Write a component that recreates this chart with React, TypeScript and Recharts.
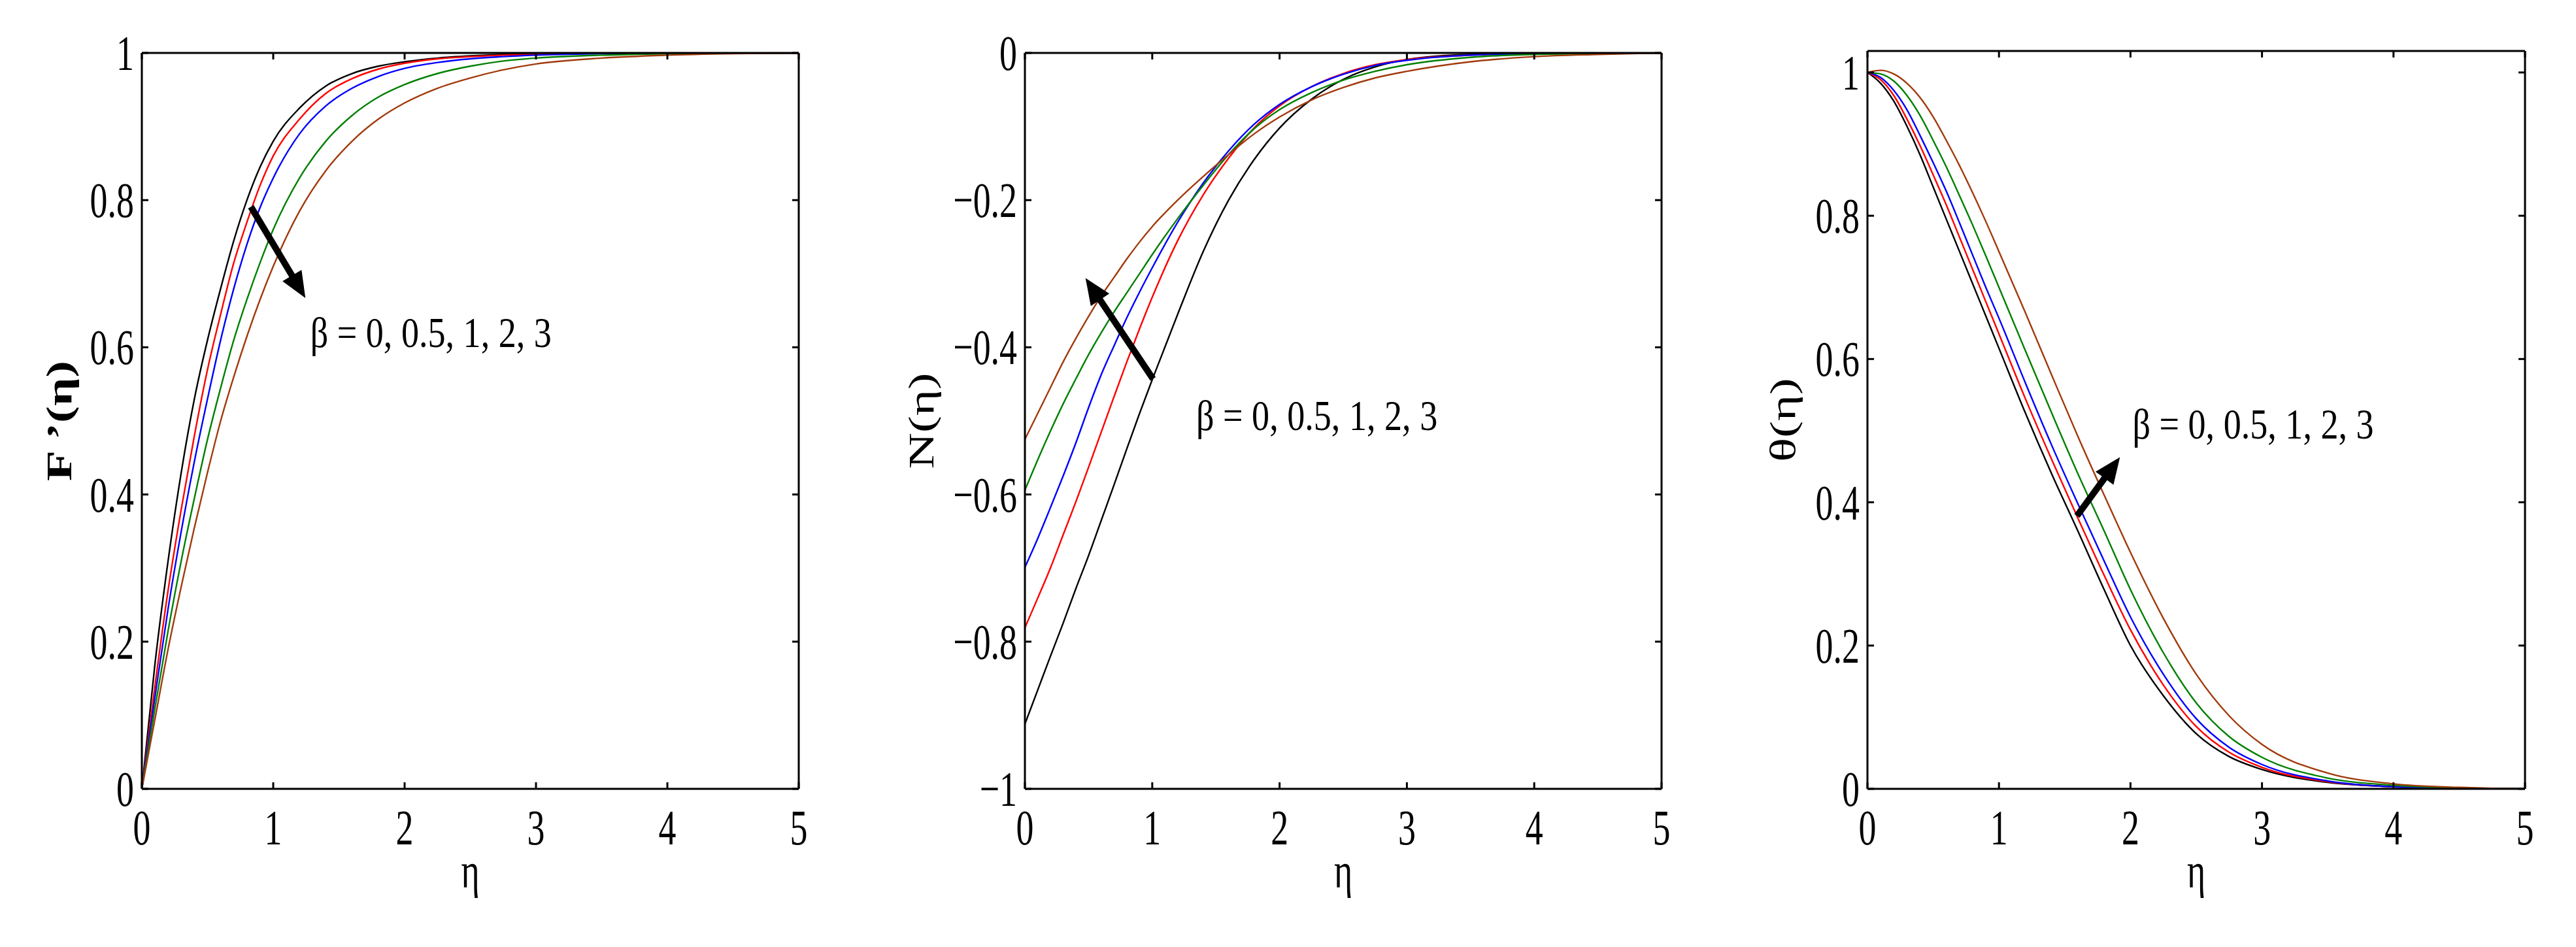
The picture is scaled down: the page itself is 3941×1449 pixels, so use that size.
import React from 'react'
import { LineChart, Line, XAxis, YAxis, ReferenceLine, ReferenceDot } from 'recharts'

// eta grid shared by the three panels
const eta = [0, 0.1, 0.2, 0.3, 0.4, 0.5, 0.6, 0.7, 0.8, 0.9, 1.0, 1.2, 1.4, 1.6, 1.8, 2.0, 2.25, 2.5, 2.75, 3.0, 3.5, 4.0, 4.5, 5.0]

const betaLabels = ['0', '0.5', '1', '2', '3']
const betaColors = ['#000000', '#ff0000', '#0000ff', '#008000', '#a13a0c']

// F'(eta)
const fB0 = [0, 0.17, 0.31, 0.43, 0.53, 0.61, 0.68, 0.745, 0.8, 0.845, 0.88, 0.925, 0.955, 0.972, 0.982, 0.988, 0.993, 0.996, 0.998, 0.999, 1, 1, 1, 1]
const fB05 = [0, 0.14, 0.27, 0.38, 0.48, 0.57, 0.645, 0.715, 0.77, 0.82, 0.86, 0.91, 0.945, 0.965, 0.978, 0.986, 0.992, 0.995, 0.997, 0.998, 1, 1, 1, 1]
const fB1 = [0, 0.125, 0.245, 0.35, 0.445, 0.53, 0.61, 0.68, 0.74, 0.79, 0.83, 0.89, 0.928, 0.952, 0.968, 0.979, 0.987, 0.992, 0.995, 0.997, 0.999, 1, 1, 1]
const fB2 = [0, 0.11, 0.215, 0.31, 0.395, 0.475, 0.545, 0.61, 0.665, 0.715, 0.76, 0.83, 0.88, 0.915, 0.94, 0.957, 0.972, 0.982, 0.989, 0.993, 0.997, 0.999, 1, 1]
const fB3 = [0, 0.095, 0.19, 0.275, 0.355, 0.43, 0.5, 0.56, 0.615, 0.665, 0.71, 0.785, 0.84, 0.88, 0.91, 0.932, 0.952, 0.966, 0.977, 0.985, 0.993, 0.997, 0.999, 1]

// N(eta)
const nB0 = [-0.912, -0.866, -0.82, -0.775, -0.728, -0.683, -0.635, -0.587, -0.538, -0.49, -0.444, -0.355, -0.27, -0.2, -0.145, -0.102, -0.063, -0.036, -0.019, -0.009, -0.002, -0.0005, 0, 0]
const nB05 = [-0.781, -0.741, -0.7, -0.655, -0.61, -0.563, -0.515, -0.467, -0.42, -0.375, -0.332, -0.255, -0.193, -0.143, -0.102, -0.072, -0.046, -0.028, -0.016, -0.009, -0.003, -0.001, 0, 0]
const nB1 = [-0.699, -0.66, -0.618, -0.575, -0.53, -0.482, -0.437, -0.398, -0.36, -0.325, -0.292, -0.23, -0.177, -0.133, -0.097, -0.07, -0.046, -0.029, -0.017, -0.01, -0.003, -0.001, 0, 0]
const nB2 = [-0.594, -0.553, -0.514, -0.477, -0.443, -0.41, -0.38, -0.352, -0.326, -0.3, -0.274, -0.225, -0.18, -0.138, -0.103, -0.077, -0.054, -0.037, -0.025, -0.016, -0.006, -0.002, -0.001, 0]
const nB3 = [-0.525, -0.49, -0.455, -0.42, -0.388, -0.358, -0.33, -0.305, -0.28, -0.257, -0.236, -0.2, -0.168, -0.138, -0.11, -0.087, -0.064, -0.047, -0.034, -0.025, -0.012, -0.005, -0.002, 0]

// theta(eta)
const tB0 = [1, 0.985, 0.96, 0.925, 0.885, 0.84, 0.795, 0.75, 0.705, 0.66, 0.615, 0.525, 0.44, 0.36, 0.278, 0.2, 0.13, 0.077, 0.045, 0.027, 0.009, 0.003, 0.001, 0]
const tB05 = [1, 0.99, 0.968, 0.935, 0.898, 0.857, 0.815, 0.77, 0.725, 0.68, 0.635, 0.545, 0.46, 0.378, 0.298, 0.222, 0.145, 0.087, 0.051, 0.03, 0.01, 0.003, 0.001, 0]
const tB1 = [1, 0.993, 0.975, 0.948, 0.912, 0.874, 0.834, 0.79, 0.745, 0.7, 0.657, 0.567, 0.48, 0.398, 0.318, 0.24, 0.16, 0.098, 0.058, 0.034, 0.011, 0.003, 0.001, 0]
const tB2 = [1, 0.998, 0.988, 0.968, 0.94, 0.905, 0.868, 0.828, 0.787, 0.744, 0.7, 0.612, 0.525, 0.44, 0.36, 0.278, 0.19, 0.12, 0.073, 0.044, 0.015, 0.005, 0.0015, 0]
const tB3 = [1, 1.003, 0.998, 0.985, 0.965, 0.938, 0.905, 0.87, 0.832, 0.792, 0.75, 0.665, 0.578, 0.492, 0.41, 0.33, 0.238, 0.16, 0.102, 0.062, 0.022, 0.007, 0.002, 0]

const xTicks = [0, 1, 2, 3, 4, 5]
const fTicks = [0, 0.2, 0.4, 0.6, 0.8, 1]
const nTicks = [-1, -0.8, -0.6, -0.4, -0.2, 0]
const tTicks = [0, 0.2, 0.4, 0.6, 0.8, 1]

const annotation = 'β = 0, 0.5, 1, 2, 3'

const FONT = "'Liberation Serif', 'Times New Roman', Times, serif"
const FS = 77
const SQUEEZE = 0.7

function buildRows(series: number[][]) {
  return eta.map((e, i) => {
    const row: Record<string, number> = { eta: e }
    series.forEach((s, k) => {
      row['b' + k] = s[i]
    })
    return row
  })
}

function fmt(v: number) {
  if (v < 0) return '\u2212' + String(Math.abs(v))
  return String(v)
}

function XTick(props: any) {
  const { x, y, payload } = props
  return (
    <text transform={`translate(${x},${y + 85}) scale(${SQUEEZE},1)`} textAnchor="middle" fontFamily={FONT} fontSize={FS} fill="#000">
      {fmt(payload.value)}
    </text>
  )
}

function YTick(props: any) {
  const { x, y, payload } = props
  return (
    <text transform={`translate(${x - 12},${y + 26}) scale(${SQUEEZE},1)`} textAnchor="end" fontFamily={FONT} fontSize={FS} fill="#000">
      {fmt(payload.value)}
    </text>
  )
}

const noTick = () => <g />

function arrowShape(props: any) {
  const { x1, y1, x2, y2 } = props
  const dx = x2 - x1
  const dy = y2 - y1
  const len = Math.hypot(dx, dy)
  const ux = dx / len
  const uy = dy / len
  const L = 40
  const W = 17
  const bx = x2 - ux * L
  const by = y2 - uy * L
  return (
    <g>
      <line x1={x1} y1={y1} x2={bx + ux * 4} y2={by + uy * 4} stroke="#000" strokeWidth={10} />
      <polygon points={`${x2},${y2} ${bx - uy * W},${by + ux * W} ${bx + uy * W},${by - ux * W}`} fill="#000" />
    </g>
  )
}

function noteShape(props: any) {
  const { cx, cy } = props
  return (
    <text transform={`translate(${cx},${cy}) scale(0.82,1)`} textAnchor="start" fontFamily={FONT} fontSize={66} fill="#000">
      {annotation}
    </text>
  )
}

type PanelProps = {
  left: number
  width: number
  margin: { top: number; right: number; bottom: number; left: number }
  series: number[][]
  yDomain: [number, number]
  yTicks: number[]
  yLabel: string
  yLabelBold?: boolean
  yLabelOffset: number
  arrow: [{ x: number; y: number }, { x: number; y: number }]
  note: { x: number; y: number }
}

function Panel(p: PanelProps) {
  const rows = buildRows(p.series)
  const axisLine = { stroke: '#000', strokeWidth: 3 }
  const tickLine = { stroke: '#000', strokeWidth: 3 }
  return (
    <div style={{ position: 'absolute', left: p.left, top: 0 }}>
      <LineChart width={p.width} height={1449} data={rows} margin={p.margin}>
        <XAxis
          dataKey="eta"
          type="number"
          domain={[0, 5]}
          ticks={xTicks}
          allowDataOverflow
          height={100}
          axisLine={axisLine}
          tickLine={tickLine}
          tickSize={-10}
          tickMargin={10}
          tick={<XTick />}
          interval={0}
          label={{
            content: (lp: any) => {
              const vb = lp.viewBox
              return (
                <text transform={`translate(${vb.x + vb.width / 2},${vb.y + 151}) scale(${SQUEEZE},1)`} textAnchor="middle" fontFamily={FONT} fontSize={FS} fill="#000">
                  η
                </text>
              )
            },
          }}
        />
        <XAxis
          xAxisId="top"
          orientation="top"
          dataKey="eta"
          type="number"
          domain={[0, 5]}
          ticks={xTicks}
          allowDataOverflow
          height={10}
          axisLine={axisLine}
          tickLine={tickLine}
          tickSize={-10}
          tick={noTick}
          interval={0}
        />
        <YAxis
          type="number"
          domain={p.yDomain}
          ticks={p.yTicks}
          allowDataOverflow
          width={100}
          axisLine={axisLine}
          tickLine={tickLine}
          tickSize={-10}
          tickMargin={10}
          tick={<YTick />}
          interval={0}
          label={{
            content: (lp: any) => {
              const vb = lp.viewBox
              const cx = vb.x + vb.width - p.yLabelOffset
              const cy = vb.y + vb.height / 2
              return (
                <text
                  transform={`translate(${cx},${cy}) rotate(-90) scale(1,${SQUEEZE})`}
                  textAnchor="middle"
                  dominantBaseline="central"
                  fontFamily={FONT}
                  fontSize={FS}
                  fontWeight={p.yLabelBold ? 'bold' : 'normal'}
                  fill="#000"
                >
                  {p.yLabel}
                </text>
              )
            },
          }}
        />
        <YAxis
          yAxisId="right"
          orientation="right"
          type="number"
          domain={p.yDomain}
          ticks={p.yTicks}
          allowDataOverflow
          width={10}
          axisLine={axisLine}
          tickLine={tickLine}
          tickSize={-10}
          tick={noTick}
          interval={0}
        />
        {p.series.map((_, k) => (
          <Line
            key={k}
            type="monotone"
            dataKey={'b' + k}
            name={'β = ' + betaLabels[k]}
            stroke={betaColors[k]}
            strokeWidth={2.4}
            dot={false}
            isAnimationActive={false}
          />
        ))}
        <ReferenceLine segment={p.arrow} shape={arrowShape} ifOverflow="visible" />
        <ReferenceDot x={p.note.x} y={p.note.y} r={0} shape={noteShape} ifOverflow="visible" />
      </LineChart>
    </div>
  )
}

export default function App() {
  return (
    <div style={{ position: 'absolute', left: 0, top: 0, width: 3941, height: 1449, background: '#fff' }}>
      <Panel
        left={0}
        width={1300}
        margin={{ top: 71, right: 68, bottom: 142, left: 117 }}
        series={[fB0, fB05, fB1, fB2, fB3]}
        yDomain={[0, 1]}
        yTicks={fTicks}
        yLabel="F ’(η)"
        yLabelBold
        yLabelOffset={126}
        arrow={[{ x: 0.83, y: 0.791 }, { x: 1.245, y: 0.667 }]}
        note={{ x: 1.282, y: 0.6 }}
      />
      <Panel
        left={1300}
        width={1300}
        margin={{ top: 71, right: 48, bottom: 142, left: 168 }}
        series={[nB0, nB05, nB1, nB2, nB3]}
        yDomain={[-1, 0]}
        yTicks={nTicks}
        yLabel="N(η)"
        yLabelOffset={158}
        arrow={[{ x: 1.006, y: -0.443 }, { x: 0.476, y: -0.306 }]}
        note={{ x: 1.345, y: -0.512 }}
      />
      <Panel
        left={2600}
        width={1341}
        margin={{ top: 68, right: 68, bottom: 142, left: 157 }}
        series={[tB0, tB05, tB1, tB2, tB3]}
        yDomain={[0, 1.03]}
        yTicks={tTicks}
        yLabel="θ(η)"
        yLabelOffset={129}
        arrow={[{ x: 1.593, y: 0.381 }, { x: 1.92, y: 0.463 }]}
        note={{ x: 2.015, y: 0.4886 }}
      />
    </div>
  )
}
